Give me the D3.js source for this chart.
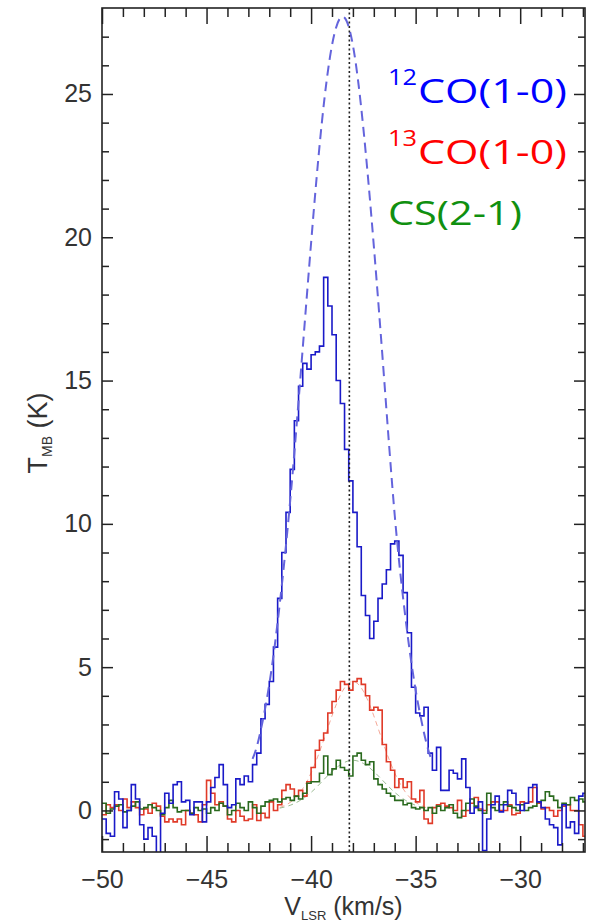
<!DOCTYPE html>
<html><head><meta charset="utf-8">
<script src="https://cdn.jsdelivr.net/npm/d3@7"></script>
<style>html,body{margin:0;padding:0;background:#fff;}svg{display:block;}</style>
</head><body>
<script>
// ---- data ----
const vStart = -50.0;      // left edge of first channel (km/s)
const dv = 0.2;            // channel width (km/s)
const co12 = [
 -0.3,-0.8,-0.9,0.65,0.4,-0.6,0.0,0.9,0.4,-0.5,
 -1.0,-0.6,-0.9,-1.7,-0.1,0.6,0.25,0.9,1.0,0.3,
 0.35,-0.15,0.3,0.3,-0.4,0.3,0.8,1.15,1.6,0.9,
 0.1,0.2,1.1,0.9,1.2,1.0,1.6,2.0,3.2,3.7,
 4.5,5.7,7.4,9.0,10.4,11.9,13.6,14.8,15.6,15.4,
 15.9,16.0,16.2,18.6,17.6,16.6,15.0,14.2,12.6,11.5,
 10.4,9.2,7.5,6.8,6.0,6.6,7.4,7.9,8.4,9.3,
 9.4,8.9,7.6,6.2,4.3,3.4,3.3,3.6,2.0,1.4,
 2.2,0.7,0.7,1.4,1.3,1.1,1.8,0.8,-0.1,0.1,
 0.3,-1.4,-0.3,0.2,0.5,-0.05,0.2,0.7,0.6,0.2,
 0.0,0.25,0.8,0.9,0.3,0.1,-0.3,-0.5,-0.6,-1.2,
 0.2,-0.6,-0.4,-0.8,0.5,0.6];
const co13 = [
 -0.15,0.2,0.1,0.2,0.0,0.4,0.1,0.3,0.1,-0.15,
 0.05,-0.1,0.25,0.15,-0.2,-0.4,-0.3,-0.4,-0.3,-0.5,
 0.0,-0.1,-0.15,-0.4,0.2,1.05,0.6,0.2,0.3,0.15,
 -0.3,-0.4,0.0,-0.2,-0.35,-0.3,0.2,-0.35,-0.1,-0.25,
 0.3,0.0,0.2,0.7,0.9,0.75,0.5,0.7,0.5,1.0,
 1.5,2.1,2.45,2.7,3.4,3.8,4.2,4.5,4.4,4.2,
 4.5,4.6,4.4,4.0,3.5,3.6,3.5,2.3,1.7,1.4,
 0.8,1.1,0.8,1.0,0.4,0.3,0.7,-0.3,-0.45,0.1,
 0.2,0.25,0.15,0.1,0.0,0.35,-0.2,0.0,0.25,0.45,
 0.05,0.0,0.2,0.3,0.3,0.0,0.0,0.2,-0.15,-0.1,
 0.3,0.25,0.3,0.8,0.25,0.05,0.1,0.0,-0.2,0.0,
 0.15,0.2,0.0,0.0,-0.5,-0.9];
const cs21 = [
 0.25,-0.1,0.05,0.15,0.2,-0.05,0.0,0.15,0.3,0.05,
 0.1,0.2,0.1,0.0,-0.15,0.1,0.35,0.1,-0.05,0.0,
 0.0,-0.1,0.1,0.0,0.05,-0.1,0.1,0.0,0.25,0.15,
 -0.15,0.0,0.25,0.1,0.0,0.3,0.1,-0.1,0.15,0.3,
 0.35,0.4,0.3,0.4,0.45,0.35,0.5,0.4,0.6,0.95,
 1.0,1.0,1.3,1.9,1.25,1.45,1.75,1.5,1.4,1.2,
 1.9,2.0,1.75,1.6,1.7,1.1,0.9,0.75,0.6,0.5,
 0.35,0.35,0.2,0.25,0.1,0.05,0.1,0.0,0.1,-0.1,
 0.15,0.0,0.1,0.2,-0.1,-0.25,0.0,0.25,0.4,0.15,
 0.0,-0.1,0.6,0.1,0.0,0.2,0.3,0.15,0.1,0.0,
 0.2,0.0,0.1,0.15,0.3,0.35,0.65,0.5,0.35,0.1,
 0.25,0.2,0.45,0.35,0.4,0.3];

// fitted profiles (dashed)
const fit12V = [-42.8,-42.5,-42,-41.5,-41,-40.5,-40,-39.5,-39,-38.5,-38,-37.5,-37,-36.5,-36,-35.5,-35,-34.5,-34.2];
const fit12T = [1.8,2.5,4.4,7.2,10.8,15.2,19.8,23.9,26.7,27.7,26.7,23.8,19.7,15.0,10.3,6.8,4.2,2.4,1.7];
const fitSmallV = [-41.5,-41,-40.5,-40,-39.5,-39,-38.5,-38,-37.5,-37,-36.5,-36,-35.5,-35,-34.5];
const fit13T = [0.1,0.28,0.65,1.31,2.24,3.3,4.16,4.5,4.16,3.3,2.24,1.31,0.65,0.28,0.1];
const fitCST = [0.08,0.18,0.36,0.63,0.99,1.36,1.64,1.75,1.64,1.36,0.99,0.63,0.36,0.18,0.08];

const vMark = -38.17;   // dotted reference velocity

const xMajor = [-50,-45,-40,-35,-30];
const xMinor = [-49,-48,-47,-46,-44,-43,-42,-41,-39,-38,-37,-36,-34,-33,-32,-31,-29,-28,-27];
const yMajor = [0,5,10,15,20,25];
const yMinor = [-1,1,2,3,4,6,7,8,9,11,12,13,14,16,17,18,19,21,22,23,24,26,27];

const legendItems = [
  {sup:"12", main:"CO(1-0)", color:"#0000ff"},
  {sup:"13", main:"CO(1-0)", color:"#ff0000"},
  {sup:"",   main:"CS(2-1)", color:"#109010"}
];

// ---- drawing ----
const W = 592, H = 922;
const L = 102, R = 585, T = 8, B = 852;
const x = d3.scaleLinear().domain([-50, -26.9]).range([L, R]);
const y = d3.scaleLinear().domain([-1.45, 28]).range([B, T]);

const svg = d3.select("body").append("svg").attr("width", W).attr("height", H);
svg.append("rect").attr("width", W).attr("height", H).attr("fill", "#fff");

svg.append("clipPath").attr("id","plotclip").append("rect")
  .attr("x", L).attr("y", T).attr("width", R-L).attr("height", B-T);

const plot = svg.append("g").attr("clip-path","url(#plotclip)");

function stepData(arr){
  const pts = arr.map((t,i)=>({v: vStart + i*dv, t}));
  pts.push({v: vStart + arr.length*dv, t: arr[arr.length-1]});
  return pts;
}
const stepLine = d3.line().x(d=>x(d.v)).y(d=>y(d.t)).curve(d3.curveStepAfter);

const fitLine = d3.line().x(d=>x(d[0])).y(d=>y(d[1])).curve(d3.curveNatural);
plot.append("path").attr("d", fitLine(fitSmallV.map((v,i)=>[v, fit13T[i]])))
  .attr("fill","none").attr("stroke","#f4a898").attr("stroke-width",1).attr("stroke-dasharray","5,4");
plot.append("path").attr("d", fitLine(fitSmallV.map((v,i)=>[v, fitCST[i]])))
  .attr("fill","none").attr("stroke","#9cbc94").attr("stroke-width",1).attr("stroke-dasharray","5,4");

const series = [
  {data: co13, color:"#e03a28"},
  {data: cs21, color:"#2a6a1e"},
  {data: co12, color:"#1a1ac8"}
];
series.forEach(s=>{
  plot.append("path").attr("d", stepLine(stepData(s.data)))
    .attr("fill","none").attr("stroke", s.color).attr("stroke-width",1.6)
    .attr("stroke-linejoin","miter");
});

plot.append("path").attr("d", fitLine(fit12V.map((v,i)=>[v, fit12T[i]])))
  .attr("fill","none").attr("stroke","#6464dc").attr("stroke-width",2).attr("stroke-dasharray","10,6");

plot.append("line").attr("x1", x(vMark)).attr("x2", x(vMark)).attr("y1", T).attr("y2", B)
  .attr("stroke","#222").attr("stroke-width",1.6).attr("stroke-dasharray","2,2.5");

// axes
const tickFont = "'Liberation Sans', Arial, Helvetica, sans-serif";
function styleAxis(g){
  g.select(".domain").remove();
  g.selectAll(".tick line").attr("stroke","#222").attr("stroke-width",1.5);
  g.selectAll("text").attr("font-family", tickFont).attr("font-size", 25).attr("fill","#333");
}
const fmt = d3.format("d");
svg.append("g").attr("transform",`translate(0,${B})`)
  .call(d3.axisBottom(x).tickValues(xMajor).tickSize(-16).tickPadding(18).tickFormat(fmt)).call(styleAxis);
svg.append("g").attr("transform",`translate(0,${B})`)
  .call(d3.axisBottom(x).tickValues(xMinor).tickSize(-9).tickFormat("")).call(styleAxis);
svg.append("g").attr("transform",`translate(0,${T})`)
  .call(d3.axisTop(x).tickValues(xMajor).tickSize(-16).tickFormat("")).call(styleAxis);
svg.append("g").attr("transform",`translate(0,${T})`)
  .call(d3.axisTop(x).tickValues(xMinor).tickSize(-9).tickFormat("")).call(styleAxis);
svg.append("g").attr("transform",`translate(${L},0)`)
  .call(d3.axisLeft(y).tickValues(yMajor).tickSize(-11).tickPadding(10).tickFormat(fmt)).call(styleAxis);
svg.append("g").attr("transform",`translate(${L},0)`)
  .call(d3.axisLeft(y).tickValues(yMinor).tickSize(-7).tickFormat("")).call(styleAxis);
svg.append("g").attr("transform",`translate(${R},0)`)
  .call(d3.axisRight(y).tickValues(yMajor).tickSize(-11).tickFormat("")).call(styleAxis);
svg.append("g").attr("transform",`translate(${R},0)`)
  .call(d3.axisRight(y).tickValues(yMinor).tickSize(-7).tickFormat("")).call(styleAxis);

svg.append("rect").attr("x",L).attr("y",T).attr("width",R-L).attr("height",B-T)
  .attr("fill","none").attr("stroke","#222").attr("stroke-width",1.6);

// axis titles
const xt = svg.append("text").attr("x", (L+R)/2).attr("y", 915).attr("text-anchor","middle")
  .attr("font-family", tickFont).attr("font-size", 25).attr("fill","#333");
xt.append("tspan").text("V");
xt.append("tspan").attr("font-size",13).attr("dy",5).text("LSR");
xt.append("tspan").attr("dy",-5).text(" (km/s)");

const yt = svg.append("text").attr("transform","translate(47,433) rotate(-90)").attr("text-anchor","middle")
  .attr("font-family", tickFont).attr("font-size", 27).attr("fill","#333");
yt.append("tspan").text("T");
yt.append("tspan").attr("font-size",14).attr("dy",5).text("MB");
yt.append("tspan").attr("dy",-5).text(" (K)");

// legend
const legFont = "'Open Sans', 'Noto Sans', sans-serif";
const legX = 388, legY0 = 103, legDy = 61;
legendItems.forEach((d,i)=>{
  const by = legY0 + i*legDy;
  let mx = legX;
  if (d.sup){
    svg.append("text").attr("x", legX).attr("y", by-18)
      .attr("font-family", legFont).attr("font-size", 21).attr("fill", d.color)
      .attr("textLength", 29).attr("lengthAdjust","spacingAndGlyphs").text(d.sup);
    mx = legX + 30;
  }
  svg.append("text").attr("x", mx).attr("y", by)
    .attr("font-family", legFont).attr("font-size", 33).attr("fill", d.color)
    .attr("textLength", d.sup ? 149 : 134).attr("lengthAdjust","spacingAndGlyphs").text(d.main);
});
</script>
</body></html>
